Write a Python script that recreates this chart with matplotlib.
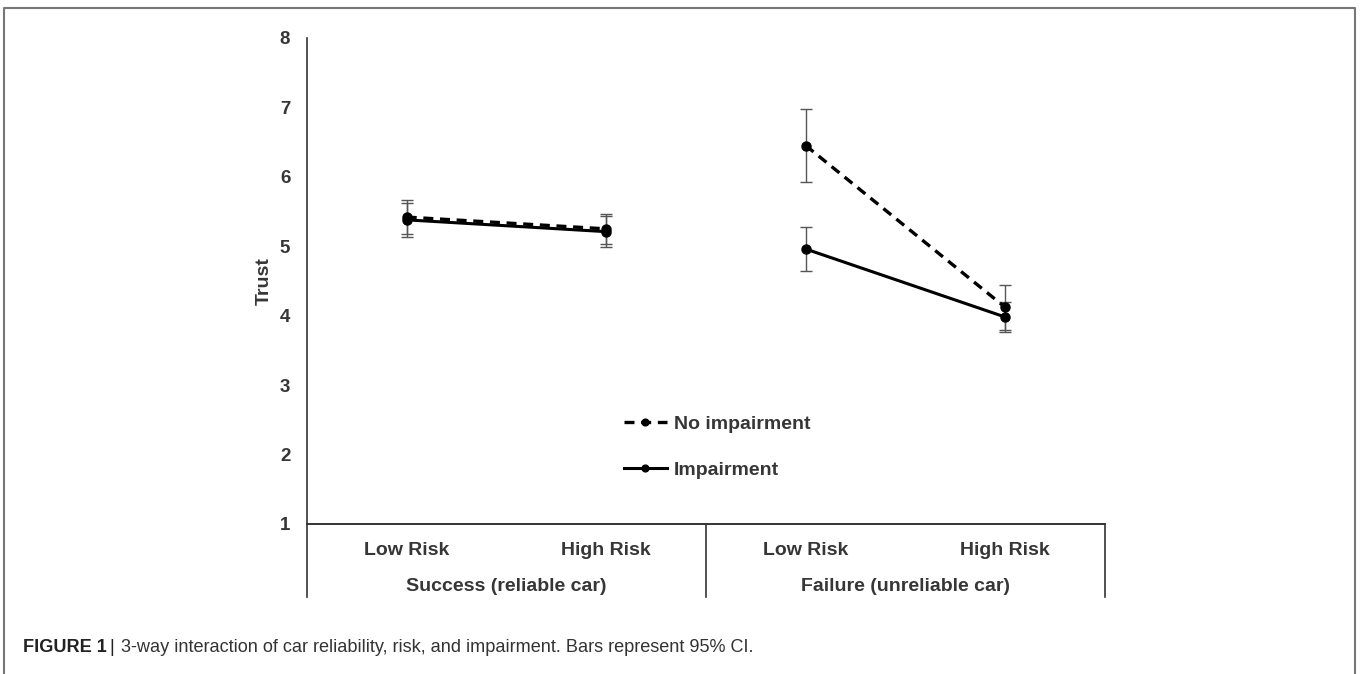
import matplotlib.pyplot as plt
import matplotlib.transforms as mtransforms
from matplotlib.lines import Line2D

# data
risk_labels = ['Low Risk', 'High Risk', 'Low Risk', 'High Risk']
group_labels = ['Success (reliable car)', 'Failure (unreliable car)']
no_imp = [5.42, 5.25, 6.45, 4.12]
no_imp_ci = [0.25, 0.22, 0.52, 0.32]
imp = [5.38, 5.21, 4.96, 3.98]
imp_ci = [0.24, 0.22, 0.31, 0.22]

TXT = '#363636'
plt.rcParams['font.family'] = ['Liberation Sans', 'DejaVu Sans']

fig = plt.figure(figsize=(13.6, 6.74), dpi=100)
ax = fig.add_axes([0.2257, 0.2226, 0.5868, 0.7211])

xpos = [0.5, 1.5, 2.5, 3.5]
for g in range(2):
    xs = xpos[2*g:2*g+2]
    ax.errorbar(xs, imp[2*g:2*g+2], yerr=imp_ci[2*g:2*g+2], fmt='none',
                ecolor='#555555', elinewidth=1, capsize=4, capthick=1, zorder=2)
    ax.errorbar(xs, no_imp[2*g:2*g+2], yerr=no_imp_ci[2*g:2*g+2], fmt='none',
                ecolor='#555555', elinewidth=1, capsize=4, capthick=1, zorder=2)
    ax.plot(xs, imp[2*g:2*g+2], color='black', lw=2.2, marker='o', ms=6.5,
            zorder=3, label='Impairment' if g == 0 else None)
    ax.plot(xs, no_imp[2*g:2*g+2], color='black', lw=2.4, ls=(0, (3, 2)),
            marker='o', ms=6.5, zorder=4, label='No impairment' if g == 0 else None)

ax.set_xlim(0, 4)
ax.set_ylim(1, 8)
ax.set_yticks(range(1, 9))
ax.tick_params(axis='y', length=0, pad=12, labelsize=13.5, labelcolor=TXT)
for t in ax.get_yticklabels():
    t.set_fontweight('bold')
ax.set_xticks(xpos)
ax.set_xticklabels(risk_labels, fontsize=14, fontweight='bold', color=TXT)
ax.tick_params(axis='x', length=0, pad=13)
ax.set_ylabel('Trust', fontsize=14, fontweight='bold', color=TXT, labelpad=5)

for s in ['top', 'right']:
    ax.spines[s].set_visible(False)
for s in ['left', 'bottom']:
    ax.spines[s].set_color('#333333')
    ax.spines[s].set_linewidth(1.2)

# category box below the axis
trans = mtransforms.blended_transform_factory(ax.transData, ax.transAxes)
for xv in [0, 2, 4]:
    ax.add_line(Line2D([xv, xv], [0, -0.15], transform=trans, color='#333333',
                       lw=1.2, clip_on=False))
ax.add_line(Line2D([0, 4], [0, 0], transform=trans, color='#333333', lw=1.2, clip_on=False))
for i, lab in enumerate(group_labels):
    ax.text(1 + 2*i, -0.129, lab, transform=trans, ha='center', va='center',
            fontsize=14, fontweight='bold', color=TXT)

h, l = ax.get_legend_handles_labels()
ax.legend(h[::-1], l[::-1], loc='center left', bbox_to_anchor=(0.385, 0.158),
          frameon=False, handlelength=2.2, handletextpad=0.36, labelspacing=1.45,
          borderpad=0, markerscale=0.75, prop={'weight': 'bold', 'size': 14},
          labelcolor=TXT)

# outer frame
W, H = 1360, 674
fig.add_artist(Line2D([4/W, 4/W, 1355/W, 1355/W], [0, 1 - 8/H, 1 - 8/H, 0],
                      transform=fig.transFigure, color='#777777', lw=1.5))

# caption
cy = 1 - 647/H
fig.text(23/W, cy, 'FIGURE 1', fontsize=13.1, fontweight='bold', va='center', color='#222222')
fig.text(109/W, cy, '|', fontsize=13.1, va='center', color='#222222')
fig.text(121/W, cy, '3-way interaction of car reliability, risk, and impairment. '
         'Bars represent 95% CI.', fontsize=13.1, va='center', color='#333333')

fig.savefig('out.png', dpi=100)
